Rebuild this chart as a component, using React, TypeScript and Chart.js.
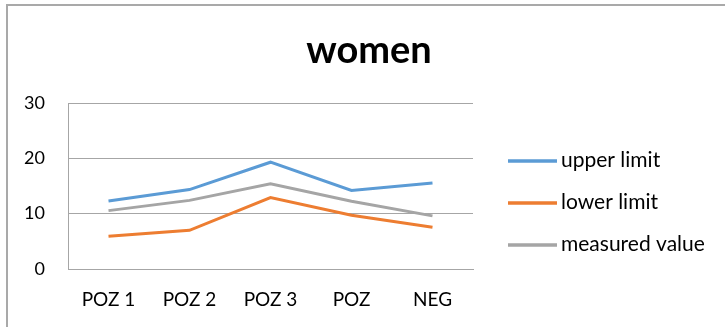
import React, { useEffect, useRef } from "react";
import { Chart, registerables } from "chart.js";

Chart.register(...registerables);

const categories = ["POZ 1", "POZ 2", "POZ 3", "POZ", "NEG"];
const upperLimit = [12.3, 14.35, 19.3, 14.2, 15.55];
const lowerLimit = [5.9, 7.0, 12.9, 9.7, 7.55];
const measuredValue = [10.55, 12.4, 15.4, 12.25, 9.6];
const seriesNames = ["upper limit", "lower limit", "measured value"];
const seriesColors = ["#5b9bd5", "#ed7d31", "#a5a5a5"];
const titleText = "women";
const yMin = 0;
const yMax = 30;
const yStep = 10;

const FONT = "Lato, 'Open Sans', sans-serif";

const titlePlugin = {
  id: "customTitle",
  afterDraw(chart: any) {
    const ctx = chart.ctx;
    ctx.save();
    ctx.font = `bold 38px ${FONT}`;
    ctx.fillStyle = "#000";
    ctx.textAlign = "center";
    ctx.textBaseline = "alphabetic";
    ctx.fillText(titleText, 369, 63);
    ctx.restore();
  },
};

const legendPlugin = {
  id: "customLegend",
  afterDraw(chart: any) {
    const ctx = chart.ctx;
    ctx.save();
    ctx.font = `21px ${FONT}`;
    ctx.textBaseline = "alphabetic";
    ctx.textAlign = "left";
    chart.data.datasets.forEach((ds: any, i: number) => {
      const y = 161 + i * 42;
      ctx.strokeStyle = ds.borderColor;
      ctx.lineWidth = 3.5;
      ctx.beginPath();
      ctx.moveTo(508, y);
      ctx.lineTo(557, y);
      ctx.stroke();
      ctx.fillStyle = "#000";
      ctx.fillText(ds.label, 561, y + 6);
    });
    ctx.restore();
  },
};

export default function App() {
  const ref = useRef<HTMLCanvasElement>(null);
  useEffect(() => {
    if (!ref.current) return;
    const seriesData = [upperLimit, lowerLimit, measuredValue];
    const chart = new Chart(ref.current, {
      type: "line",
      data: {
        labels: categories,
        datasets: seriesData.map((d, i) => ({
          label: seriesNames[i],
          data: d,
          borderColor: seriesColors[i],
          backgroundColor: seriesColors[i],
          borderWidth: 3,
          pointRadius: 0,
          tension: 0,
          fill: false,
        })),
      },
      options: {
        animation: false,
        responsive: false,
        maintainAspectRatio: false,
        layout: { padding: { left: 0, top: 103, right: 252, bottom: 0 } },
        plugins: {
          legend: { display: false },
          title: { display: false },
          tooltip: { enabled: false },
        },
        scales: {
          x: {
            offset: true,
            grid: { display: false, drawTicks: false },
            border: { display: true, color: "#a6a6a6", width: 1 },
            ticks: {
              color: "#000",
              font: { family: FONT, size: 19 },
              padding: 19,
              maxRotation: 0,
              autoSkip: false,
            },
            afterFit(scale: any) {
              scale.height = 58;
            },
          },
          y: {
            min: yMin,
            max: yMax,
            ticks: {
              stepSize: yStep,
              color: "#000",
              font: { family: FONT, size: 18 },
              padding: 23,
            },
            grid: { color: "#a6a6a6", lineWidth: 1, drawTicks: false },
            border: { display: true, color: "#a6a6a6", width: 1 },
            afterFit(scale: any) {
              scale.width = 68;
            },
          },
        },
      },
      plugins: [titlePlugin, legendPlugin],
    });
    return () => chart.destroy();
  }, []);

  return (
    <div style={{ position: "fixed", left: 0, top: 0, width: 725, height: 327, background: "#fff", overflow: "hidden" }}>
      <canvas ref={ref} width={725} height={327} style={{ position: "absolute", left: 0, top: 0, width: 725, height: 327 }} />
      <div
        style={{
          position: "absolute",
          left: 6,
          top: 4,
          width: 740,
          height: 340,
          borderTop: "2px solid #a9a9a9",
          borderLeft: "2px solid #a9a9a9",
          pointerEvents: "none",
        }}
      />
    </div>
  );
}
